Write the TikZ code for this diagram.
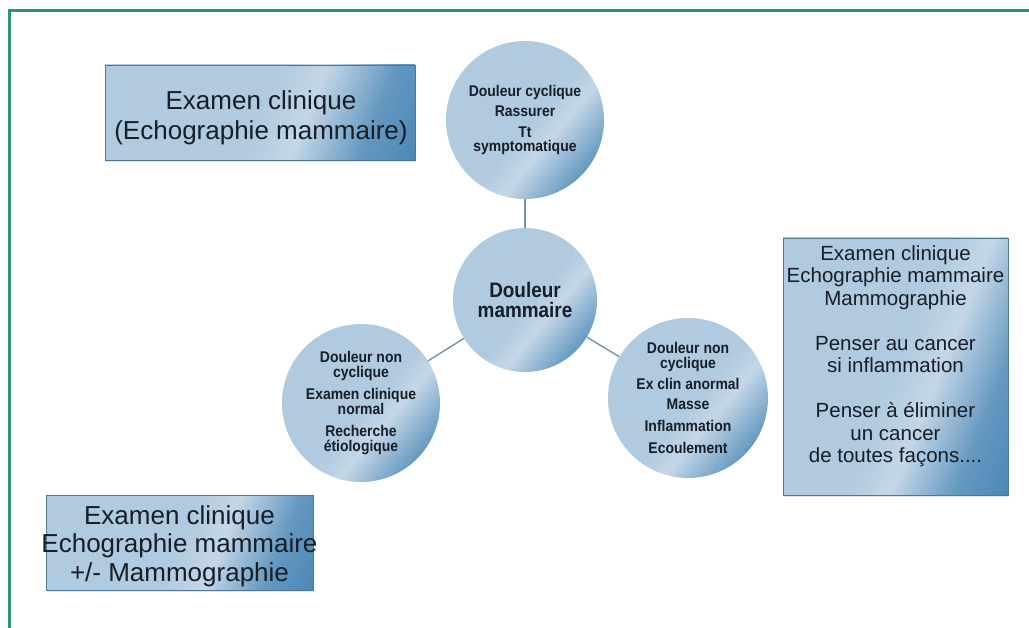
\documentclass[tikz,border=0pt]{standalone}
\usepackage{fontspec}
\setmainfont{Liberation Sans}
\newfontfamily\bubblefont[FakeStretch=0.9]{Liberation Sans}
\usetikzlibrary{shadows}
\definecolor{lb}{RGB}{176,202,223}
\definecolor{hl}{RGB}{196,215,231}
\definecolor{mb}{RGB}{100,152,192}
\definecolor{db}{RGB}{32,112,164}
\definecolor{framec}{RGB}{43,150,118}
\definecolor{txt}{RGB}{22,30,40}
\definecolor{conn}{RGB}{118,148,168}
\definecolor{edgec}{RGB}{80,120,148}
\pgfdeclarehorizontalshading{panel}{100bp}{color(0bp)=(lb); color(50bp)=(lb); color(59bp)=(hl); color(72bp)=(mb); color(100bp)=(db)}
\pgfdeclarehorizontalshading{ball}{100bp}{color(0bp)=(lb); color(52bp)=(lb); color(60bp)=(hl); color(75bp)=(mb); color(100bp)=(db)}
\begin{document}
\begin{tikzpicture}[x=1pt,y=-1pt,
  panelbox/.style={rectangle, draw=edgec, line width=0.8pt, shading=panel, shading angle=-22,
    inner sep=0pt, drop shadow={shadow xshift=0.6pt, shadow yshift=-2.2pt, opacity=0.22}},
  boxlabel/.style={align=center, text=txt, inner sep=0pt},
  bubble/.style={circle, shading=ball, shading angle=-40, inner sep=0pt, align=center,
    text=txt, font=\bubblefont\fontsize{15.5}{14.5}\selectfont\bfseries},
  link/.style={draw=conn, line width=1.4pt}
]
\useasboundingbox (0,0) rectangle (1029,628);
\fill[white] (0,0) rectangle (1029,628);
% frame
\draw[framec, line width=3pt] (1029,10.5) -- (9,10.5) -- (9,628);

% panels
\node[panelbox, minimum width=310pt, minimum height=95pt] (box1) at (260,112.5) {};
\node[boxlabel, font=\fontsize{26}{30}\selectfont] (lab1) at (261,118) {Examen clinique\\(Echographie mammaire)};

\node[panelbox, minimum width=225pt, minimum height=257pt] (box3) at (895.5,366.5) {};
\node[boxlabel, font=\fontsize{20.5}{22.5}\selectfont] (lab3) at (895.5,356)
  {Examen clinique\\Echographie mammaire\\Mammographie\\[22.5pt]Penser au cancer\\si inflammation\\[22.5pt]Penser à éliminer\\un cancer\\de toutes façons....};

\node[panelbox, minimum width=267pt, minimum height=95pt] (box2) at (179.5,542.5) {};
\node[boxlabel, font=\fontsize{26}{28.5}\selectfont] (lab2) at (179.5,546)
  {Examen clinique\\Echographie mammaire\\+/- Mammographie};

% circles
\node[bubble, minimum size=158pt] (top) at (525,120)
  {Douleur cyclique\\[5.5pt]Rassurer\\[6.5pt]Tt\\symptomatique};
\node[bubble, minimum size=144pt, font=\bubblefont\fontsize{21}{20}\selectfont\bfseries] (mid) at (525,300)
  {Douleur\\mammaire};
\node[bubble, minimum size=158pt] (left) at (361,403)
  {Douleur non\\cyclique\\[8pt]Examen clinique\\normal\\[8pt]Recherche\\étiologique};
\node[bubble, minimum size=160pt] (right) at (688,398)
  {Douleur non\\cyclique\\[7pt]Ex clin anormal\\[5.5pt]Masse\\[7pt]Inflammation\\[7.5pt]Ecoulement};

% connectors
\path[link] (mid) -- (top);
\path[link] (mid) -- (left);
\path[link] (mid) -- (right);
\end{tikzpicture}
\end{document}
